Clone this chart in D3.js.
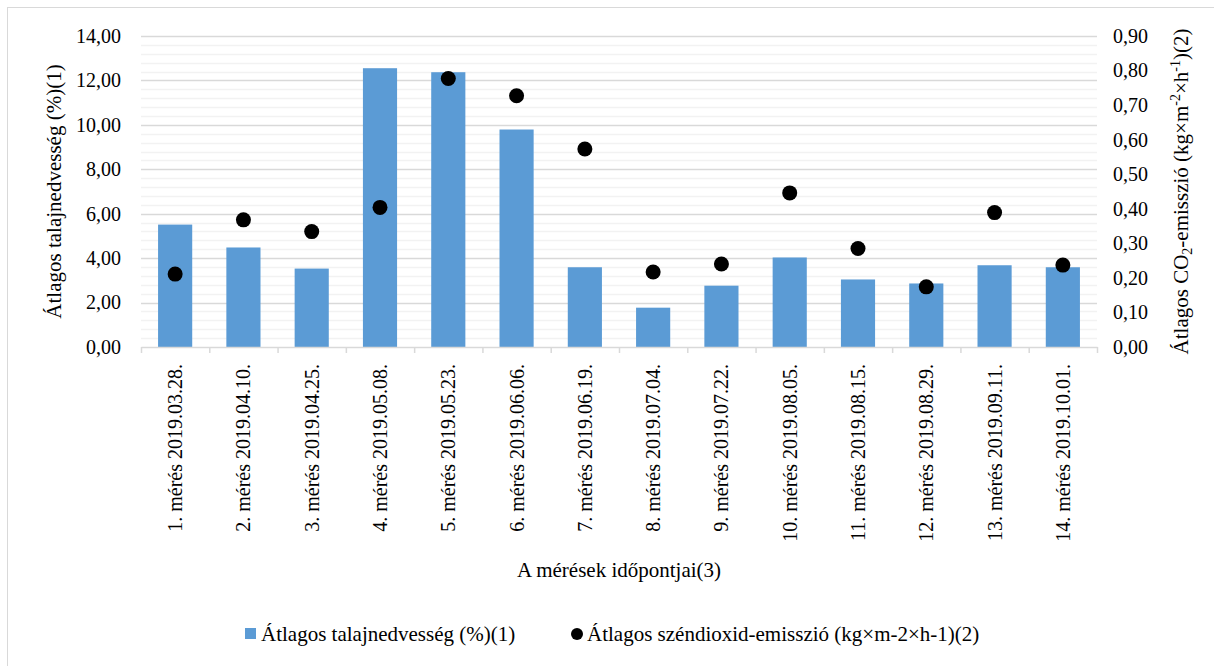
<!DOCTYPE html>
<html>
<head>
<meta charset="utf-8">
<script src="https://cdn.jsdelivr.net/npm/d3@7"></script>
<style>
  html, body { margin: 0; padding: 0; background: #ffffff; }
  svg { display: block; }
  svg text { font-family: "Liberation Serif", serif; }
</style>
</head>
<body>
<svg id="chart" width="1214" height="666" font-family="Liberation Serif"></svg>
<script>
// Measurement dates
const categories = [
  "1. mérés 2019.03.28.", "2. mérés 2019.04.10.", "3. mérés 2019.04.25.",
  "4. mérés 2019.05.08.", "5. mérés 2019.05.23.", "6. mérés 2019.06.06.",
  "7. mérés 2019.06.19.", "8. mérés 2019.07.04.", "9. mérés 2019.07.22.",
  "10. mérés 2019.08.05.", "11. mérés 2019.08.15.", "12. mérés 2019.08.29.",
  "13. mérés 2019.09.11.", "14. mérés 2019.10.01."
];
// Average soil moisture (%)
const moisture = [5.51, 4.48, 3.53, 12.55, 12.37, 9.79, 3.59, 1.77, 2.76, 4.03, 3.04, 2.86, 3.68, 3.59];
// Average CO2 emission (kg m-2 h-1)
const emission = [0.211, 0.368, 0.334, 0.404, 0.777, 0.727, 0.573, 0.217, 0.240, 0.446, 0.285, 0.174, 0.389, 0.237];
// Axis ticks
const leftTicks = [0, 2, 4, 6, 8, 10, 12, 14];
const rightTicks = [0, 0.1, 0.2, 0.3, 0.4, 0.5, 0.6, 0.7, 0.8, 0.9];
const minorStep = 0.4;

const seriesNames = ["Átlagos talajnedvesség (%)(1)", "Átlagos széndioxid-emisszió (kg×m-2×h-1)(2)"];
const xTitle = "A mérések időpontjai(3)";

const huLocale = d3.formatLocale({ decimal: ",", thousands: " ", grouping: [3], currency: ["", " Ft"] });
const fmt2 = huLocale.format(".2f");

const FONT = "Liberation Serif";
const svg = d3.select("#chart");
const plot = { left: 141, right: 1097, top: 36, bottom: 347 };
const barColor = "#5b9bd5";
const majorGrid = "#d9d9d9";
const minorGrid = "#f2f2f2";
const textColor = "#000000";

// Chart frame
svg.append("rect")
  .attr("x", 7.5).attr("y", 7.5)
  .attr("width", 1230).attr("height", 680)
  .attr("fill", "#ffffff").attr("stroke", "#d9d9d9").attr("stroke-width", 1);

const yLeft = d3.scaleLinear().domain([0, 14]).range([plot.bottom, plot.top]);
const yRight = d3.scaleLinear().domain([0, 0.9]).range([plot.bottom, plot.top]);
const xBand = d3.scaleBand().domain(categories).range([plot.left, plot.right])
  .paddingInner(0.5).paddingOuter(0.25);
const xSlot = d3.scaleBand().domain(categories).range([plot.left, plot.right]).padding(0);
const xIdx = d3.scaleLinear().domain([0, categories.length]).range([plot.left, plot.right]);

// Minor gridlines
const minorVals = d3.range(minorStep, 14 + 1e-9, minorStep)
  .filter(v => Math.abs(v / 2 - Math.round(v / 2)) > 1e-6);
svg.append("g").selectAll("line").data(minorVals).join("line")
  .attr("x1", plot.left).attr("x2", plot.right)
  .attr("y1", d => Math.round(yLeft(d)) + 0.5).attr("y2", d => Math.round(yLeft(d)) + 0.5)
  .attr("stroke", minorGrid).attr("stroke-width", 1.5);

// Major gridlines
svg.append("g").selectAll("line").data(leftTicks.filter(d => d > 0)).join("line")
  .attr("x1", plot.left).attr("x2", plot.right)
  .attr("y1", d => Math.round(yLeft(d)) + 0.5).attr("y2", d => Math.round(yLeft(d)) + 0.5)
  .attr("stroke", majorGrid).attr("stroke-width", 1.5);

// Bars
svg.append("g").selectAll("rect").data(moisture).join("rect")
  .attr("x", (d, i) => xBand(categories[i]))
  .attr("width", xBand.bandwidth())
  .attr("y", d => yLeft(d))
  .attr("height", d => yLeft(0) - yLeft(d))
  .attr("fill", barColor);

// Category axis: baseline with boundary ticks
const xAxis = svg.append("g")
  .attr("transform", `translate(0,${plot.bottom})`)
  .call(d3.axisBottom(xIdx).tickValues(d3.range(0, categories.length + 1)).tickSize(6).tickSizeOuter(0).tickFormat(""));
xAxis.selectAll("path, line").attr("stroke", majorGrid).attr("stroke-width", 1.5);

// Category labels (rotated)
svg.append("g").selectAll("text").data(categories).join("text")
  .attr("transform", d => `translate(${xSlot(d) + xSlot.bandwidth() / 2},${plot.bottom + 17}) rotate(-90)`)
  .attr("text-anchor", "end")
  .attr("dy", "0.35em")
  .attr("font-family", FONT)
  .attr("font-size", 20)
  .attr("fill", textColor)
  .text(d => d);

// Left axis
const leftAxis = svg.append("g")
  .attr("transform", `translate(${plot.left},0)`)
  .call(d3.axisLeft(yLeft).tickValues(leftTicks).tickSize(0).tickPadding(20).tickFormat(fmt2));
leftAxis.attr("font-family", FONT);
leftAxis.select(".domain").remove();
leftAxis.selectAll("text").attr("font-size", 20).attr("font-family", FONT).attr("fill", textColor);

// Right axis
const rightAxis = svg.append("g")
  .attr("transform", `translate(${plot.right},0)`)
  .call(d3.axisRight(yRight).tickValues(rightTicks).tickSize(0).tickPadding(16).tickFormat(fmt2));
rightAxis.attr("font-family", FONT);
rightAxis.select(".domain").remove();
rightAxis.selectAll("text").attr("font-size", 20).attr("font-family", FONT).attr("fill", textColor);

// Emission points
svg.append("g").selectAll("circle").data(emission).join("circle")
  .attr("cx", (d, i) => xSlot(categories[i]) + xSlot.bandwidth() / 2)
  .attr("cy", d => yRight(d))
  .attr("r", 7.5)
  .attr("fill", "#000000");

// Axis titles
const midY = (plot.top + plot.bottom) / 2;
svg.append("text")
  .attr("transform", `translate(61,${midY}) rotate(-90)`)
  .attr("text-anchor", "middle")
  .attr("font-family", FONT)
  .attr("font-size", 21)
  .attr("fill", textColor)
  .text("Átlagos talajnedvesség (%)(1)");

const rTitle = svg.append("text")
  .attr("transform", `translate(1188,${midY}) rotate(-90)`)
  .attr("text-anchor", "middle")
  .attr("font-family", FONT)
  .attr("font-size", 21)
  .attr("fill", textColor);
rTitle.append("tspan").text("Átlagos CO");
rTitle.append("tspan").attr("font-size", 14).attr("dy", 4).text("2");
rTitle.append("tspan").attr("dy", -4).text("-emisszió (kg×m");
rTitle.append("tspan").attr("font-size", 14).attr("dy", -8).text("-2");
rTitle.append("tspan").attr("dy", 8).text("×h");
rTitle.append("tspan").attr("font-size", 14).attr("dy", -8).text("-1");
rTitle.append("tspan").attr("dy", 8).text(")(2)");

svg.append("text")
  .attr("x", (plot.left + plot.right) / 2)
  .attr("y", 577)
  .attr("text-anchor", "middle")
  .attr("font-family", FONT)
  .attr("font-size", 21)
  .attr("fill", textColor)
  .text(xTitle);

// Legend
const legend = svg.append("g").attr("font-family", FONT);
legend.append("rect").attr("x", 245).attr("y", 628).attr("width", 11).attr("height", 11).attr("fill", barColor);
legend.append("text").attr("x", 261).attr("y", 641).attr("font-size", 21).attr("fill", textColor).text(seriesNames[0]);
legend.append("circle").attr("cx", 577).attr("cy", 634).attr("r", 6).attr("fill", "#000000");
legend.append("text").attr("x", 587).attr("y", 641).attr("font-size", 21).attr("fill", textColor).text(seriesNames[1]);
</script>
</body>
</html>
